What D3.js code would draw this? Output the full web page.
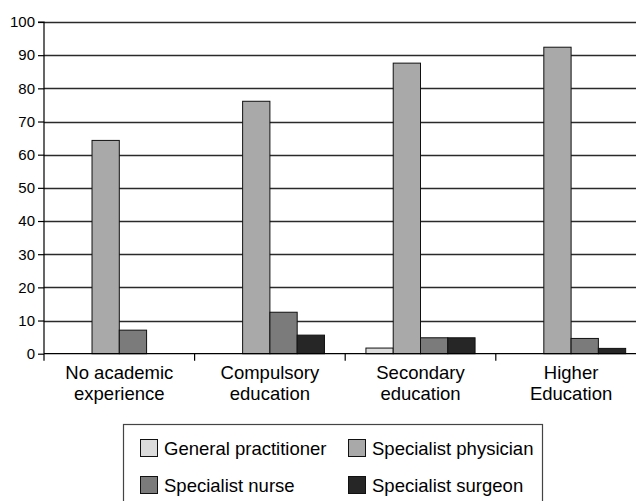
<!DOCTYPE html>
<html>
<head>
<meta charset="utf-8">
<script src="https://cdn.jsdelivr.net/npm/d3@7"></script>
<style>
html,body{margin:0;padding:0;background:#fff;}
svg{display:block;font-family:"Liberation Sans",Arial,Helvetica,sans-serif;}
</style>
</head>
<body>
<svg id="chart" width="636" height="501"></svg>
<script>
const categories = [["No academic","experience"],["Compulsory","education"],["Secondary","education"],["Higher","Education"]];
const series = ["General practitioner","Specialist physician","Specialist nurse","Specialist surgeon"];
const gpValues = [0, 0, 1.7, 0];
const physicianValues = [64.3, 76.1, 87.6, 92.4];
const nurseValues = [7.1, 12.5, 4.8, 4.6];
const surgeonValues = [0, 5.6, 4.8, 1.6];
const yTicks = [0,10,20,30,40,50,60,70,80,90,100];
const colors = ["#dcdcdc","#a9a9a9","#7b7b7b","#262626"];

(function(){
const allValues = [gpValues, physicianValues, nurseValues, surgeonValues];
const svg = d3.select("#chart");
const mLeft = 44, mTop = 22, plotH = 331.7, bandW = 150.6;
const catKeys = categories.map((c,i)=>i);

const x0 = d3.scaleBand().domain(catKeys).range([mLeft, mLeft + bandW*categories.length]).paddingInner(0).paddingOuter(0);
const x1 = d3.scaleBand().domain(series).range([0, x0.bandwidth()]).paddingInner(0).paddingOuter(0.76);
const y = d3.scaleLinear().domain([0,100]).range([mTop+plotH, mTop]);

// gridlines
svg.append("g").selectAll("line").data(yTicks.filter(t=>t>0)).join("line")
  .attr("x1", mLeft).attr("x2", 636)
  .attr("y1", d=>Math.round(y(d))+0.5).attr("y2", d=>Math.round(y(d))+0.5)
  .attr("stroke","#2a2a2a").attr("stroke-width",1.3);

// bars
const groups = svg.append("g").selectAll("g").data(catKeys).join("g")
  .attr("transform", d=>`translate(${x0(d)},0)`);
groups.selectAll("rect").data(ci => series.map((s,si)=>({s, si, v: allValues[si][ci]})).filter(d=>d.v>0))
  .join("rect")
  .attr("x", d=>x1(d.s)).attr("width", x1.bandwidth())
  .attr("y", d=>y(d.v)).attr("height", d=>y(0)-y(d.v))
  .attr("fill", d=>colors[d.si]).attr("stroke","#111").attr("stroke-width",1);

// y axis
const yAxis = d3.axisLeft(y).tickValues(yTicks).tickSize(6).tickPadding(3).tickFormat(d3.format("d"));
const yg = svg.append("g").attr("transform",`translate(${mLeft},0)`).call(yAxis);
yg.select(".domain").attr("stroke","#000").attr("stroke-width",1.2).attr("d", `M-6,${y(100)}H0V${y(0)}`);
yg.selectAll(".tick line").attr("stroke","#000").attr("stroke-width",1.2);
yg.selectAll(".tick text").attr("font-size",15).attr("fill","#000").attr("font-family","Liberation Sans, Arial, sans-serif");

// x axis
const xg = svg.append("g").attr("transform",`translate(0,${y(0)})`);
xg.append("line").attr("x1",mLeft).attr("x2",636).attr("y1",0).attr("y2",0).attr("stroke","#000").attr("stroke-width",1.2);
const boundaries = catKeys.map(k=>x0(k)).concat([x0(catKeys.length-1)+x0.bandwidth()]);
xg.selectAll("line.bt").data(boundaries).join("line").attr("class","bt")
  .attr("x1",d=>d).attr("x2",d=>d).attr("y1",0).attr("y2",7).attr("stroke","#000").attr("stroke-width",1.2);
const labels = xg.selectAll("text.cat").data(catKeys).join("text").attr("class","cat")
  .attr("text-anchor","middle").attr("font-size",18.5).attr("fill","#000")
  .attr("x", d=>x0(d)+x0.bandwidth()/2);
labels.each(function(d){
  const t = d3.select(this);
  categories[d].forEach((line,i)=>{
    t.append("tspan").attr("x", x0(d)+x0.bandwidth()/2).attr("y", 25 + i*21).text(line);
  });
});

// legend
const lg = svg.append("g");
lg.append("rect").attr("x",123.5).attr("y",424.5).attr("width",419).attr("height",90)
  .attr("fill","#fff").attr("stroke","#444").attr("stroke-width",1.2);
const legPos = [[140,439],[348,439],[140,476],[348,476]];
series.forEach((s,i)=>{
  const [lx,ly] = legPos[i];
  lg.append("rect").attr("x",lx+0.5).attr("y",ly+0.5).attr("width",17).attr("height",17)
    .attr("fill",colors[i]).attr("stroke","#111").attr("stroke-width",1);
  lg.append("text").attr("x",lx+24).attr("y",ly+16).attr("font-size",18.5).attr("fill","#000").text(s);
});
})();
</script>
</body>
</html>
